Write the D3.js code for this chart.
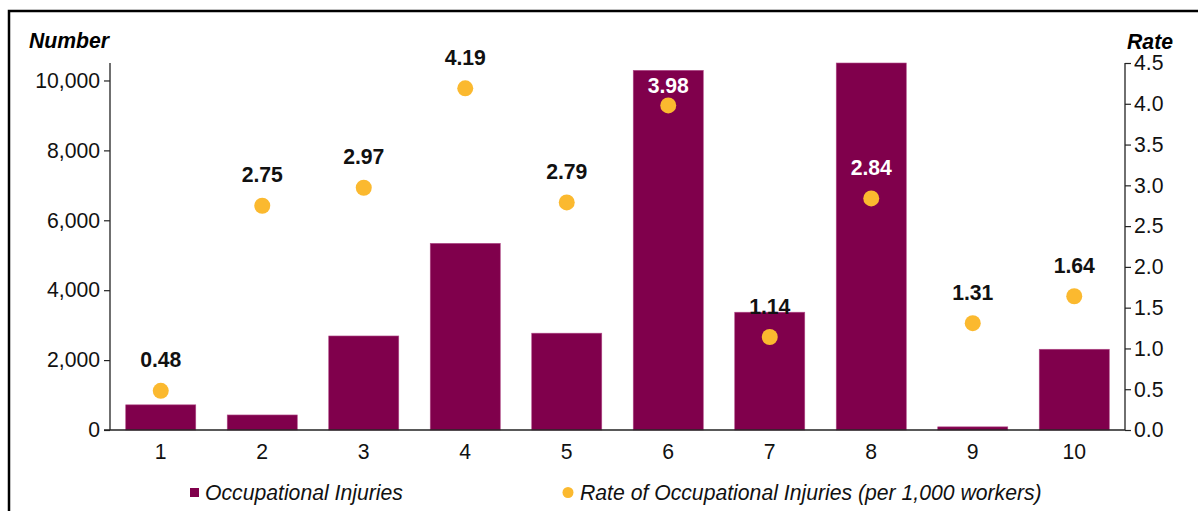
<!DOCTYPE html>
<html><head><meta charset="utf-8">
<script src="https://cdn.jsdelivr.net/npm/d3@7"></script>
<style>body{margin:0;background:#fff;} svg{display:block;font-family:"Liberation Sans",Arial,sans-serif;}</style>
</head><body>
<svg id="c" width="1198" height="511"></svg>
<script>
const categories = ["1","2","3","4","5","6","7","8","9","10"];
const injuries = [720, 430, 2690, 5340, 2770, 10290, 3370, 10500, 90, 2310];
const rates = [0.48, 2.75, 2.97, 4.19, 2.79, 3.98, 1.14, 2.84, 1.31, 1.64];
const leftTicks = [0, 2000, 4000, 6000, 8000, 10000];
const rightTicks = [0,0.5,1,1.5,2,2.5,3,3.5,4,4.5];
const seriesNames = ["Occupational Injuries", "Rate of Occupational Injuries (per 1,000 workers)"];

const barColor = "#80004C", dotColor = "#FBB92F";
const FS = 21.2;
const svg = d3.select("#c");
const L = 110, R = 1125, T = 63, B = 430;

// frame
svg.append("path").attr("d", `M9,520 L9,11 L1210,11`).attr("fill","none").attr("stroke","#000").attr("stroke-width",2.5);

const x = d3.scaleBand().domain(categories).range([L, R]).paddingInner(0.31).paddingOuter(0.155);
const yL = d3.scaleLinear().domain([0, 10500]).range([B, T]);
const yR = d3.scaleLinear().domain([0, 4.5]).range([B, T]);

// bars
svg.append("g").selectAll("rect").data(injuries).join("rect")
  .attr("x", (d,i)=>x(categories[i])).attr("width", x.bandwidth())
  .attr("y", d=>yL(d)).attr("height", d=>B - yL(d))
  .attr("fill", barColor).attr("stroke","#b04a88").attr("stroke-width",0.6);

// axes
const axL = svg.append("g").attr("transform",`translate(${L},0)`)
  .call(d3.axisLeft(yL).tickValues(leftTicks).tickSize(6).tickPadding(4).tickFormat(d3.format(",")));
const axR = svg.append("g").attr("transform",`translate(${R},0)`)
  .call(d3.axisRight(yR).tickValues(rightTicks).tickSize(6).tickPadding(3).tickFormat(d3.format(".1f")));
[axL, axR].forEach(a=>{
  a.select(".domain").attr("d", `M0,${T}V${B}`).attr("stroke","#222").attr("stroke-width",1.3);
  a.selectAll(".tick line").attr("stroke","#222").attr("stroke-width",1.2);
  a.selectAll("text").attr("font-size",FS).attr("fill","#111").attr("font-family","Liberation Sans, Arial, sans-serif");
});
// x axis
const axX = svg.append("g").attr("transform",`translate(0,${B})`)
  .call(d3.axisBottom(x).tickSize(0).tickPadding(14));
axX.select(".domain").attr("d", `M${L-6},0H${R}`).attr("stroke","#222").attr("stroke-width",1.3);
axX.selectAll("text").attr("font-size",FS).attr("fill","#111").attr("font-family","Liberation Sans, Arial, sans-serif");

// axis titles
svg.append("text").attr("x",29).attr("y",48).text("Number")
  .attr("font-size",FS).attr("font-weight","bold").attr("font-style","italic");
svg.append("text").attr("x",1173).attr("y",49).attr("text-anchor","end").text("Rate")
  .attr("font-size",FS).attr("font-weight","bold").attr("font-style","italic");

// dots
const cx = i => x(categories[i]) + x.bandwidth()/2;
svg.append("g").selectAll("circle").data(rates).join("circle")
  .attr("cx",(d,i)=>cx(i)).attr("cy",d=>yR(d)).attr("r",8).attr("fill",dotColor);

// labels: above the dot; if the label centre falls inside a bar, push it fully inside
function labelY(d,i){
  let c = yR(d) - 31;
  const top = yL(injuries[i]);
  if (c > top && c - 10 < top) c = top + 15;
  return c;
}
svg.append("g").selectAll("text").data(rates).join("text")
  .attr("x",(d,i)=>cx(i)).attr("y",(d,i)=>labelY(d,i)).attr("dy","0.36em")
  .attr("text-anchor","middle").attr("font-size",FS).attr("font-weight","bold")
  .attr("fill",(d,i)=> labelY(d,i) > yL(injuries[i]) ? "#fff" : "#111")
  .text(d=>d3.format(".2f")(d));

// legend
const lg = svg.append("g");
lg.append("rect").attr("x",190).attr("y",488).attr("width",9).attr("height",9).attr("fill",barColor);
lg.append("text").attr("x",205).attr("y",499.5).text(seriesNames[0]).attr("font-size",FS).attr("font-style","italic").attr("fill","#111");
lg.append("circle").attr("cx",568).attr("cy",492.5).attr("r",5.5).attr("fill",dotColor);
lg.append("text").attr("x",580).attr("y",499.5).text(seriesNames[1]).attr("font-size",FS).attr("font-style","italic").attr("fill","#111");
</script>
</body></html>
